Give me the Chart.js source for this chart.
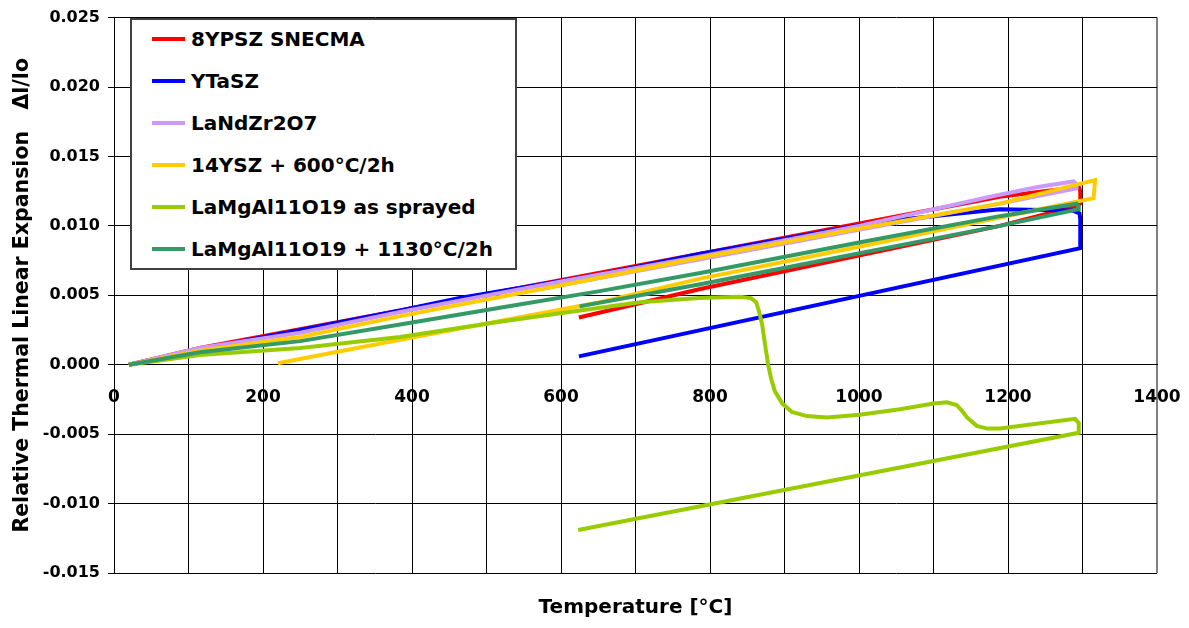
<!DOCTYPE html>
<html>
<head>
<meta charset="utf-8">
<script src="https://cdn.jsdelivr.net/npm/chart.js@4.4.1/dist/chart.umd.min.js"></script>
<style>
html, body { margin: 0; padding: 0; background: #fff; }
#contenedor { position: relative; width: 1189px; height: 628px; }
#leyenda { position: absolute; left: 130px; top: 18px; width: 383px; height: 248px; border: 2px solid #404040; background: #fff;
  font-family: 'DejaVu Sans'; font-weight: bold; font-size: 20px; color: #000; }
.fila { position: absolute; left: 0; height: 24px; line-height: 24px; white-space: nowrap; }
.muestra { position: absolute; left: 20px; top: 10px; width: 33px; height: 4px; }
.texto { position: absolute; left: 59px; top: 0; }
</style>
</head>
<body>
<div id="contenedor">
  <canvas id="grafica" width="1189" height="628"></canvas>
  <div id="leyenda"></div>
</div>
<script>
// nombres y colores de las series
const serieNames = ['8YPSZ SNECMA', 'YTaSZ', 'LaNdZr2O7', '14YSZ + 600°C/2h', 'LaMgAl11O19 as sprayed', 'LaMgAl11O19 + 1130°C/2h']
const serieColors = ['#FF0000', '#0000FF', '#CC99FF', '#FFCC00', '#99CC00', '#339966']

// 8YPSZ SNECMA
const t8ypsz = [20, 115, 384, 787, 1189, 1295, 1297, 1297, 1290, 1189, 787, 624]
const d8ypsz = [0, 0.0012, 0.0039, 0.0080, 0.0121, 0.0128, 0.0125, 0.0116, 0.0114, 0.0100, 0.00545, 0.0034]
// YTaSZ
const tytasz = [20, 115, 384, 464, 652, 787, 1028, 1189, 1287, 1296, 1297, 1297, 624]
const dytasz = [0, 0.0011, 0.0039, 0.0048, 0.0065, 0.0080, 0.0103, 0.0112, 0.0111, 0.0109, 0.0105, 0.0084, 0.0006]
// LaNdZr2O7
const tlanzo = [20, 115, 250, 384, 600, 787, 1000, 1176, 1240, 1288, 1292, 1292, 1189, 787, 577]
const dlanzo = [0, 0.0012, 0.0023, 0.0038, 0.0060, 0.0078, 0.0100, 0.0121, 0.0128, 0.0132, 0.0130, 0.0127, 0.0116, 0.0076, 0.0055]
// 14YSZ + 600°C/2h
const t14ysz = [20, 115, 250, 384, 599, 787, 1000, 1189, 1317, 1316, 1315, 1189, 1000, 787, 652, 384, 220]
const d14ysz = [0, 0.0010, 0.0020, 0.0035, 0.0057, 0.0077, 0.0098, 0.0116, 0.0133, 0.0127, 0.0120, 0.0106, 0.0085, 0.0062, 0.0045, 0.0018, 0.0001]
// LaMgAl11O19 as sprayed
const tlmaSpr = [20, 115, 250, 384, 518, 599, 706, 785, 840, 855, 862, 866, 870, 874, 878, 882, 887, 897, 910, 930, 957, 1001, 1055, 1100, 1118, 1131, 1138, 1145, 1158, 1172, 1189, 1290, 1295, 1295, 623]
const dlmaSpr = [0, 0.0007, 0.0012, 0.0020, 0.0031, 0.0037, 0.0045, 0.0048, 0.0049, 0.0048, 0.0045, 0.0038, 0.0029, 0.0014, 0.0000, -0.0010, -0.0019, -0.0028, -0.0034, -0.0037, -0.0038, -0.0036, -0.0032, -0.0028, -0.0027, -0.0029, -0.0033, -0.0038, -0.0044, -0.0046, -0.0046, -0.0039, -0.0042, -0.0049, -0.0119]
// LaMgAl11O19 + 1130°C/2h
const tlma1130 = [20, 115, 250, 384, 518, 652, 787, 1000, 1189, 1292, 1295, 1295, 1189, 787, 625]
const dlma1130 = [0, 0.0009, 0.0017, 0.0029, 0.0041, 0.0053, 0.0066, 0.0088, 0.0107, 0.0116, 0.0114, 0.0112, 0.0100, 0.0058, 0.0042]

const serieT = [t8ypsz, tytasz, tlanzo, t14ysz, tlmaSpr, tlma1130]
const serieD = [d8ypsz, dytasz, dlanzo, d14ysz, dlmaSpr, dlma1130]

// etiquetas de los ejes
const xTickLabels = [0, 200, 400, 600, 800, 1000, 1200, 1400]
const yTickValues = [-0.015, -0.010, -0.005, 0, 0.005, 0.010, 0.015, 0.020, 0.025]

const fuente = 'DejaVu Sans'

let datasets = serieNames.map((nombre, i) => ({
  label: nombre,
  data: serieT[i].map((t, k) => ({ x: t, y: serieD[i][k] })),
  borderColor: serieColors[i],
  backgroundColor: serieColors[i],
  borderWidth: 4,
  pointRadius: 0,
  showLine: true,
  tension: 0,
  fill: false,
  order: serieNames.length - 1 - i
}))

// leyenda en html
let leyenda = document.getElementById('leyenda')
serieNames.forEach((nombre, i) => {
  let fila = document.createElement('div')
  fila.className = 'fila'
  fila.style.top = (7 + 42 * i) + 'px'
  let muestra = document.createElement('div')
  muestra.className = 'muestra'
  muestra.style.background = serieColors[i]
  let texto = document.createElement('div')
  texto.className = 'texto'
  texto.innerText = nombre
  fila.appendChild(muestra)
  fila.appendChild(texto)
  leyenda.appendChild(fila)
})

new Chart(document.getElementById('grafica'), {
  type: 'scatter',
  data: { datasets: datasets },
  options: {
    responsive: false,
    animation: false,
    devicePixelRatio: 1,
    layout: { padding: { left: 0, top: 15, right: 32, bottom: 0 } },
    plugins: { legend: { display: false }, tooltip: { enabled: false } },
    scales: {
      x: {
        type: 'linear', min: 0, max: 1400,
        position: { y: 0 },
        afterFit: s => { s.height = 0; s.paddingLeft = 0; s.paddingRight = 0 },
        ticks: {
          stepSize: 100, autoSkip: false, maxRotation: 0, padding: 16, color: '#000',
          font: { family: fuente, weight: 'bold', size: 17 },
          callback: v => xTickLabels.includes(v) ? String(v) : ''
        },
        grid: {
          tickLength: 7,
          color: c => (c.tick && c.tick.value === 1400) ? '#808080' : '#000',
          lineWidth: c => (c.tick && c.tick.value === 1400) ? 2 : 1
        },
        border: { color: '#000', width: 1 }
      },
      x2: {
        type: 'linear', min: 0, max: 1400, position: 'bottom',
        afterFit: s => { s.height = 55; s.paddingLeft = 0; s.paddingRight = 0 },
        ticks: { display: false },
        grid: { display: false, drawTicks: false },
        border: { display: false },
        title: { display: true, text: 'Temperature [°C]', color: '#000', font: { family: fuente, weight: 'bold', size: 20 }, padding: { top: 0, bottom: 8 } }
      },
      y: {
        type: 'linear', min: -0.015, max: 0.025,
        afterFit: s => { s.width = 114 },
        afterBuildTicks: s => { s.ticks = yTickValues.map(v => ({ value: v })) },
        ticks: {
          padding: 8, color: '#000',
          font: { family: fuente, weight: 'bold', size: 16 },
          callback: v => v.toFixed(3)
        },
        grid: { tickLength: 6, color: '#000', lineWidth: 1 },
        border: { color: '#000', width: 1 },
        title: { display: true, text: 'Relative Thermal Linear Expansion   \u0394l/lo', color: '#000', font: { family: fuente, weight: 'bold', size: 20.5 }, padding: { top: 10, bottom: 0 } }
      }
    }
  }
})
</script>
</body>
</html>
